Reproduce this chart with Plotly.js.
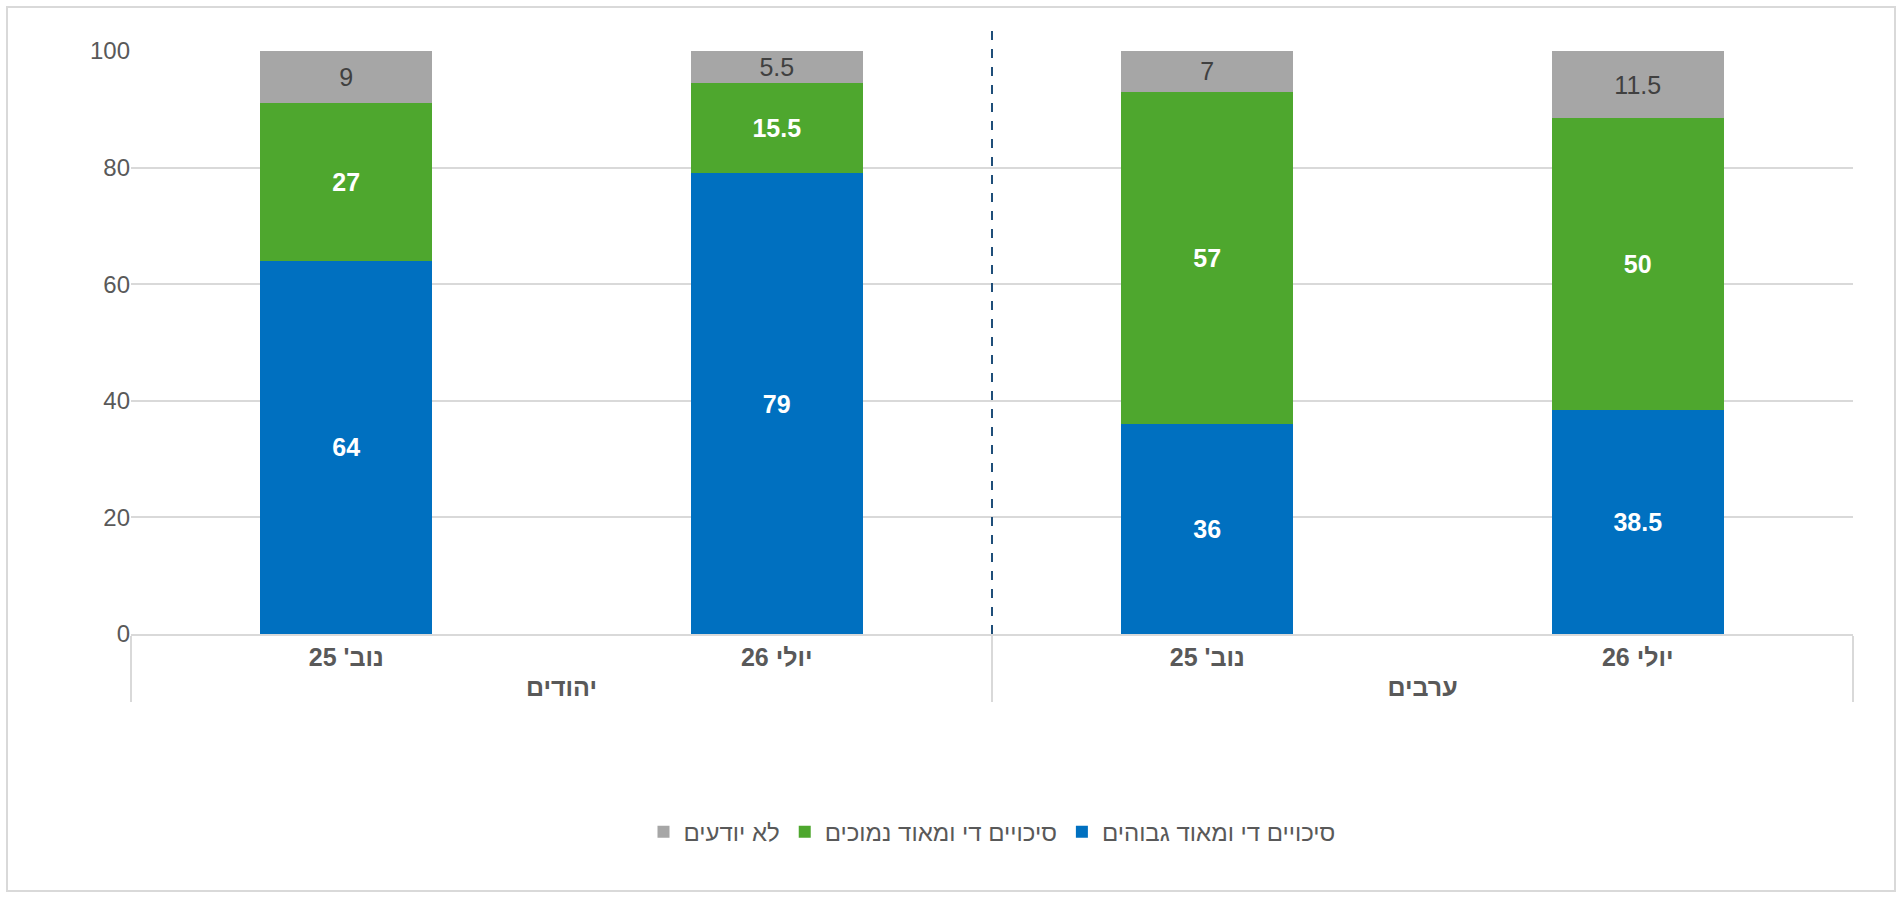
<!DOCTYPE html>
<html>
<head>
<meta charset="utf-8">
<script src="https://cdn.plot.ly/plotly-3.0.1.min.js"></script>
<style>
  body { margin: 0; background: #fff; }
  #frame { position: absolute; left: 6px; top: 6px; width: 1886px; height: 882px; border: 2px solid #d9d9d9; }
  #chart { position: absolute; left: 0; top: 0; width: 1904px; height: 898px; }
</style>
</head>
<body>
<div id="frame"></div>
<div id="chart"></div>
<script>
const groups = ["יהודים", "יהודים", "ערבים", "ערבים"];
const periods = ["נוב' 25", "יולי 26", "נוב' 25", "יולי 26"];

const seriesNames = ["סיכויים די ומאוד גבוהים", "סיכויים די ומאוד נמוכים", "לא יודעים"];
const highValues = [64, 79, 36, 38.5];
const lowValues = [27, 15.5, 57, 50];
const unknownValues = [9, 5.5, 7, 11.5];

const colors = ["#0070c0", "#4ea72e", "#a6a6a6"];
const textColors = ["#ffffff", "#ffffff", "#404040"];
const allValues = [highValues, lowValues, unknownValues];

const traces = allValues.map((vals, i) => ({
  type: "bar",
  name: seriesNames[i],
  x: [groups, periods],
  y: vals,
  marker: { color: colors[i] },
  text: vals.map(String),
  textposition: "inside",
  insidetextanchor: "middle",
  constraintext: "none",
  textfont: {
    family: "Liberation Sans, Arial",
    size: 25,
    color: textColors[i],
    weight: i < 2 ? "bold" : "normal",
  },
  hoverinfo: "y+name",
}));

const layout = {
  barmode: "stack",
  bargap: 0.6,
  width: 1904,
  height: 898,
  margin: { l: 131, r: 51, t: 51, b: 264 },
  paper_bgcolor: "rgba(0,0,0,0)",
  plot_bgcolor: "#fff",
  font: { family: "Liberation Sans, Arial", color: "#595959" },
  showlegend: true,
  legend: {
    orientation: "h",
    x: 0.5,
    xanchor: "center",
    y: -0.34,
    yanchor: "middle",
    font: { size: 24, color: "#595959" },
    itemwidth: 30,
  },
  xaxis: {
    type: "multicategory",
    showdividers: true,
    dividercolor: "#d9d9d9",
    dividerwidth: 2,
    tickfont: { size: 25, color: "#595959", weight: "bold" },
    showline: true,
    linecolor: "#d9d9d9",
    linewidth: 2,
  },
  yaxis: {
    range: [0, 100],
    dtick: 20,
    gridcolor: "#d9d9d9",
    gridwidth: 2,
    zeroline: false,
    tickfont: { size: 24, color: "#595959" },
    ticklen: 0,
    ticks: "",
  },
  shapes: [
    {
      type: "line",
      xref: "paper",
      yref: "paper",
      x0: 0.5,
      x1: 0.5,
      y0: 0,
      y1: 1.04,
      line: { color: "#1f4e79", width: 2, dash: "dash" },
    },
  ],
};

Plotly.newPlot("chart", traces, layout, { displayModeBar: false });
</script>
</body>
</html>
